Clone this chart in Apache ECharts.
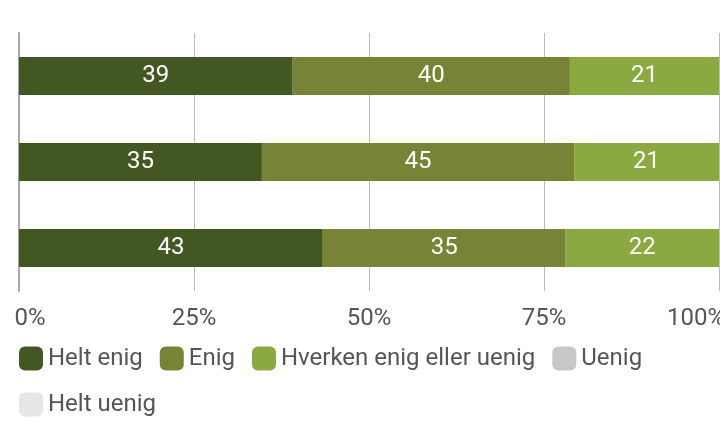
<!DOCTYPE html>
<html>
<head>
<meta charset="utf-8">
<script src="https://cdn.jsdelivr.net/npm/echarts@6/dist/echarts.min.js"></script>
<style>
html,body{margin:0;padding:0;background:#fff;}
#chart{width:720px;height:422px;}
</style>
</head>
<body>
<div id="chart"></div>
<script>
const categories = ['Påstand 1', 'Påstand 2', 'Påstand 3'];
const seriesNames = ['Helt enig', 'Enig', 'Hverken enig eller uenig', 'Uenig', 'Helt uenig'];
const heltEnig = [39.1, 34.7, 43.4];
const enig = [39.6, 44.6, 34.7];
const hverken = [21.3, 20.7, 21.9];
const uenig = [0, 0, 0];
const heltUenig = [0, 0, 0];
const tickValues = [0, 25, 50, 75, 100];

const colors = ['#425722', '#788435', '#8aa940', '#c8c8c8', '#e6e6e6'];
const allData = [heltEnig, enig, hverken, uenig, heltUenig];
const FONT = 'Roboto';

const chart = echarts.init(document.getElementById('chart'), null, {renderer: 'canvas'});
chart.setOption({
  animation: false,
  color: colors,
  grid: {left: 19, right: 1, top: 33, height: 258, containLabel: false, outerBoundsMode: 'none'},
  legend: {
    left: 19, right: 0, top: 344, padding: 0,
    icon: 'roundRect',
    itemWidth: 24, itemHeight: 24, itemGap: 17,
    textStyle: {fontFamily: FONT, fontSize: 24, color: '#555', lineHeight: 29},
    data: seriesNames
  },
  xAxis: {
    type: 'value', min: 0, max: 100, interval: 25,
    axisLine: {show: false},
    axisTick: {show: false},
    splitLine: {show: true, lineStyle: {color: '#bdbdbd', width: 1}},
    axisLabel: {
      margin: 16,
      fontFamily: FONT, fontSize: 24, color: '#555',
      formatter: function (v) {
        if (v === tickValues[0]) return '{first|' + v + '%}';
        if (v === tickValues[tickValues.length - 1]) return '{last|' + v + '%}';
        return v + '%';
      },
      rich: {
        first: {fontFamily: FONT, fontSize: 24, color: '#555', padding: [0, 0, 0, 22]},
        last: {fontFamily: FONT, fontSize: 24, color: '#555', padding: [0, 46, 0, 0]}
      }
    }
  },
  yAxis: {
    type: 'category', data: categories, inverse: true,
    axisLine: {show: true, lineStyle: {color: '#a8a8a8', width: 2}},
    axisTick: {show: false},
    axisLabel: {show: false}
  },
  series: seriesNames.map(function (name, i) {
    return {
      name: name, type: 'bar', stack: 'total', barWidth: 38,
      data: allData[i],
      label: {
        show: true, position: 'inside', color: '#fff',
        fontFamily: FONT, fontSize: 24,
        formatter: function (p) { return p.value > 0 ? Math.round(p.value) : ''; }
      },
      emphasis: {disabled: true}
    };
  })
});
</script>
</body>
</html>
